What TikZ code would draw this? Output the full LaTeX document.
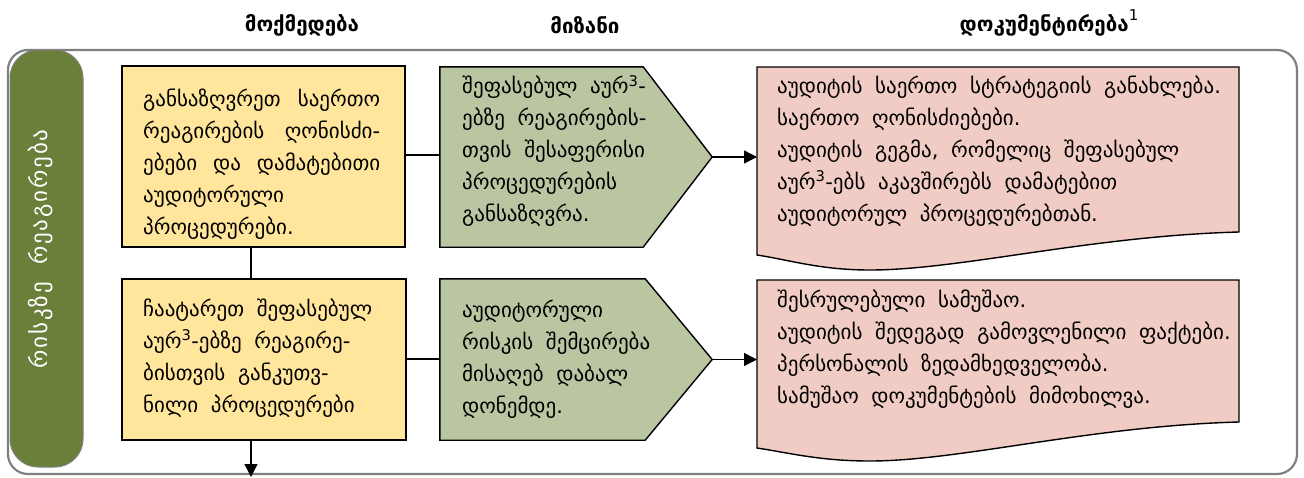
\documentclass[tikz,border=0pt]{standalone}
\usepackage{fontspec}
\setmainfont{DejaVu Sans}[WordSpace=1.9]
\usetikzlibrary{arrows.meta,calc}

\definecolor{barGreen}{RGB}{106,127,58}
\definecolor{actYellow}{RGB}{255,230,156}
\definecolor{goalGreen}{RGB}{186,197,161}
\definecolor{docPink}{RGB}{240,204,196}
\definecolor{frameGray}{RGB}{128,128,128}

\newcommand\bodysize{\fontsize{21}{32}\selectfont}
\newcommand\fullline[1]{\makebox[237pt][s]{#1}}
\newcommand\notemark[1]{\raisebox{0.5em}{\normalfont\fontsize{15}{15}\selectfont #1}}

\begin{document}
\begin{tikzpicture}[x=1pt,y=-1pt,
  outline/.style={draw=black,line width=1.4pt},
  actbox/.style={outline,fill=actYellow,inner sep=0pt},
  goalrect/.style={inner sep=0pt},
  goalshape/.style={outline,fill=goalGreen,line join=miter},
  docshape/.style={outline,fill=docPink},
  txt/.style={font=\bodysize,align=left,inner sep=0pt,anchor=west},
  head/.style={font=\fontsize{20.5}{24}\selectfont\bfseries,inner sep=0pt},
  link/.style={line width=1.4pt},
  arr/.style={line width=1.4pt,-{Triangle[length=13pt,width=13pt]}}]
\useasboundingbox (0,0) rectangle (1304,477);

% column headings
\node[head] (h1) at (302,25) {მოქმედება};
\node[head] (h2) at (585,25) {მიზანი};
\node[head] (h3) at (1049,23) {დოკუმენტირება\notemark{1}};

% outer panel and side bar
\draw[frameGray,line width=2.2pt,rounded corners=20pt] (8,50) rectangle (1297,474);
\node[fill=barGreen,draw=frameGray,line width=1pt,rounded corners=28pt,
      minimum width=73pt,minimum height=417pt,inner sep=0pt] (side) at (46.5,258.5) {};
\node[font=\fontsize{23}{26}\selectfont\addfontfeature{LetterSpace=8},text=white,rotate=90,inner sep=0pt] (sidelabel) at (41,249) {რისკზე რეაგირება};

% row 1
\node[actbox,minimum width=283pt,minimum height=181pt] (a1) at (263.5,156.5) {};
\node[goalrect,minimum width=203pt,minimum height=180pt] (b1) at (541.5,157) {};
\coordinate (b1tip) at ($(b1.east)+(69,0)$);
\draw[goalshape] (b1.north west) -- (b1.north east) -- (b1tip) -- (b1.south east) -- (b1.south west) -- cycle;
\draw[docshape] (757,67) -- (1239,67) -- (1239,232)
  .. controls (1090,236) and (960,270) .. (870,270)
  .. controls (820,270) and (790,260) .. (757,255) -- cycle;
\node[inner sep=0pt,minimum width=482pt,minimum height=188pt,anchor=north west] (c1) at (757,67) {};

% row 2
\node[actbox,minimum width=284pt,minimum height=161pt] (a2) at (264,359.5) {};
\node[goalrect,minimum width=205pt,minimum height=161pt] (b2) at (542.5,359.5) {};
\coordinate (b2tip) at ($(b2.east)+(67,0)$);
\draw[goalshape] (b2.north west) -- (b2.north east) -- (b2tip) -- (b2.south east) -- (b2.south west) -- cycle;
\draw[docshape] (757,280) -- (1239,280) -- (1239,422)
  .. controls (1090,426) and (960,461) .. (870,461)
  .. controls (820,461) and (790,453) .. (757,448) -- cycle;
\node[inner sep=0pt,minimum width=482pt,minimum height=168pt,anchor=north west] (c2) at (757,280) {};

% texts
\node[txt] (t1) at (143,164) {\fullline{განსაზღვრეთ საერთო}\\
  \fullline{რეაგირების ღონისძი-}\\
  \fullline{ებები და დამატებითი}\\
  აუდიტორული\\
  პროცედურები.};
\node[txt] (t2) at (462,151) {შეფასებულ აურ\textsuperscript{3}-\\
  ებზე რეაგირების-\\
  თვის შესაფერისი\\
  პროცედურების\\
  განსაზღვრა.};
\node[txt] (t3) at (777,151) {აუდიტის საერთო სტრატეგიის განახლება.\\
  საერთო ღონისძიებები.\\
  აუდიტის გეგმა, რომელიც შეფასებულ\\
  აურ\textsuperscript{3}-ებს აკავშირებს დამატებით\\
  აუდიტორულ პროცედურებთან.};
\node[txt] (t4) at (143,358) {ჩაატარეთ შეფასებულ\\
  აურ\textsuperscript{3}-ებზე რეაგირე-\\
  ბისთვის განკუთვ-\\
  ნილი პროცედურები};
\node[txt] (t5) at (462,359) {აუდიტორული\\
  რისკის შემცირება\\
  მისაღებ დაბალ\\
  დონემდე.};
\node[txt] (t6) at (777,349) {შესრულებული სამუშაო.\\
  აუდიტის შედეგად გამოვლენილი ფაქტები.\\
  პერსონალის ზედამხედველობა.\\
  სამუშაო დოკუმენტების მიმოხილვა.};

% connectors
\coordinate (spine) at (251,0);
\coordinate (exit) at (251,477);
\draw[link] (spine |- a1.south) -- (spine |- a2.north);
\draw[arr] (spine |- a2.south) -- (exit);
\draw[link] (a1.east |- 0,155) -- (b1.west |- 0,155);
\draw[arr] (b1tip) -- (b1tip -| c1.west);
\draw[link] (a2.east |- 0,359) -- (b2.west |- 0,359);
\draw[arr] (b2tip) -- (b2tip -| c2.west);
\end{tikzpicture}
\end{document}
